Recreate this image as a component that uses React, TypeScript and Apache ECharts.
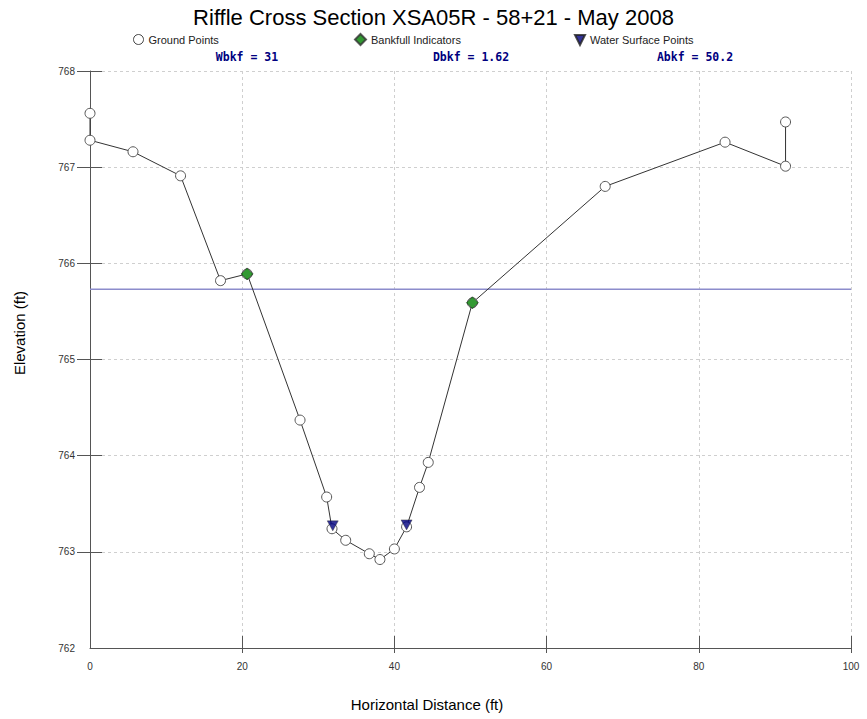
import React, { useEffect, useRef } from "react";
import * as echarts from "echarts";

// Surveyed cross-section profile: [station (ft), elevation (ft)]
const groundPoints: [number, number][] = [
  [0, 767.56],
  [0, 767.28],
  [5.65, 767.16],
  [11.9, 766.91],
  [17.15, 765.82],
  [20.65, 765.89],
  [27.6, 764.37],
  [31.1, 763.57],
  [31.8, 763.24],
  [33.6, 763.12],
  [36.7, 762.98],
  [38.1, 762.92],
  [40.0, 763.03],
  [41.6, 763.26],
  [43.3, 763.67],
  [44.45, 763.93],
  [50.25, 765.59],
  [67.7, 766.8],
  [83.45, 767.26],
  [91.4, 767.01],
  [91.4, 767.47],
];

const bankfullPoints: [number, number][] = [
  [20.65, 765.89],
  [50.25, 765.59],
];

const waterSurfacePoints: [number, number][] = [
  [31.9, 763.27],
  [41.6, 763.28],
];

// Bankfull stage drawn across the whole section
const bankfullStage = 765.73;
const bankfullLine: [number, number][] = [
  [0, bankfullStage],
  [100, bankfullStage],
];

const xTicks = [20, 40, 60, 80, 100];
const yTicks = [763, 764, 765, 766, 767, 768];

const statNames = ["Wbkf", "Dbkf", "Abkf"];
const statValues = ["31", "1.62", "50.2"];

const TITLE = "Riffle Cross Section XSA05R - 58+21 - May 2008";
const DOWN_TRIANGLE = "path://M0,0 L10,0 L5,10 Z";

export default function App() {
  const ref = useRef<HTMLDivElement>(null);

  useEffect(() => {
    if (!ref.current) return;
    const chart = echarts.init(ref.current, undefined, { renderer: "svg" });

    const font = "Liberation Sans";
    const axisColor = "#555";
    const statX = [247, 471, 695];
    const legendText = { fontSize: 11, color: "#222", fontFamily: font };

    chart.setOption({
      animation: false,
      backgroundColor: "#fff",
      textStyle: { fontFamily: font },
      title: {
        text: TITLE,
        left: "center",
        top: 1,
        textStyle: { fontSize: 22, fontWeight: "normal", color: "#000", fontFamily: font },
      },
      legend: [
        {
          data: [{ name: "Ground Points", icon: "circle", itemStyle: { color: "#fff", borderColor: "#444", borderWidth: 1 } }],
          left: 128,
          top: 29,
          itemWidth: 10,
          itemHeight: 10,
          textStyle: legendText,
        },
        {
          data: [{ name: "Bankfull Indicators", icon: "diamond" }],
          left: 349,
          top: 28,
          itemWidth: 11,
          itemHeight: 11,
          textStyle: legendText,
        },
        {
          data: [{ name: "Water Surface Points", icon: DOWN_TRIANGLE }],
          left: 569,
          top: 29,
          itemWidth: 10,
          itemHeight: 10,
          textStyle: legendText,
        },
      ],
      grid: { left: 90, right: 16, top: 71, bottom: 71 },
      xAxis: [
        {
          type: "value",
          min: 0,
          max: 100,
          interval: 20,
          axisLine: { show: true, lineStyle: { color: axisColor, width: 1 } },
          axisTick: { show: true, inside: true, length: 12, customValues: xTicks, lineStyle: { color: axisColor } },
          axisLabel: { color: "#333", fontSize: 10, margin: 13 },
          splitLine: { show: true, lineStyle: { type: [3, 3], color: "#cfcfcf" } },
        },
        {
          type: "value",
          min: 0,
          max: 100,
          interval: 20,
          position: "bottom",
          axisLine: { show: false },
          axisTick: { show: true, inside: false, length: 5, customValues: xTicks, lineStyle: { color: axisColor } },
          axisLabel: { show: false },
          splitLine: { show: false },
        },
      ],
      yAxis: [
        {
          type: "value",
          min: 762,
          max: 768,
          interval: 1,
          axisLine: { show: true, lineStyle: { color: axisColor, width: 1 } },
          axisTick: { show: true, inside: false, length: 13, customValues: yTicks, lineStyle: { color: axisColor } },
          axisLabel: { color: "#333", fontSize: 10, margin: 15 },
          splitLine: { show: true, lineStyle: { type: [3, 3], color: "#cfcfcf" } },
        },
        {
          type: "value",
          min: 762,
          max: 768,
          interval: 1,
          position: "left",
          axisLine: { show: false },
          axisTick: { show: true, inside: true, length: 12, customValues: yTicks, lineStyle: { color: axisColor } },
          axisLabel: { show: false },
          splitLine: { show: false },
        },
      ],
      series: [
        {
          name: "Bankfull Stage",
          type: "line",
          data: bankfullLine,
          showSymbol: false,
          symbol: "none",
          silent: true,
          lineStyle: { color: "#8c8ccc", width: 1.5 },
          z: 1,
        },
        {
          name: "Ground Points",
          type: "line",
          data: groundPoints,
          symbol: "circle",
          symbolSize: 10,
          itemStyle: { color: "#fff", borderColor: "#555", borderWidth: 1 },
          lineStyle: { color: "#333", width: 1 },
          z: 2,
        },
        {
          name: "Bankfull Indicators",
          type: "scatter",
          data: bankfullPoints,
          symbol: "diamond",
          symbolSize: 12,
          itemStyle: { color: "#008000", borderColor: "#333", borderWidth: 0.8 },
          z: 3,
        },
        {
          name: "Water Surface Points",
          type: "scatter",
          data: waterSurfacePoints,
          symbol: DOWN_TRIANGLE,
          symbolSize: [11, 10],
          itemStyle: { color: "#000080", borderColor: "#222", borderWidth: 0.5 },
          z: 3,
        },
      ],
      graphic: [
        ...statNames.map((n, i) => ({
          type: "text",
          x: statX[i],
          y: 57,
          style: {
            text: `${n} = ${statValues[i]}`,
            textAlign: "center",
            textVerticalAlign: "middle",
            font: 'bold 11.5px "DejaVu Sans Mono"',
            fill: "#000080",
          },
        })),
        {
          type: "text",
          x: 19,
          y: 333,
          rotation: Math.PI / 2,
          style: {
            text: "Elevation (ft)",
            textAlign: "center",
            textVerticalAlign: "middle",
            font: `15px "${font}"`,
            fill: "#000",
          },
        },
        {
          type: "text",
          x: 427,
          y: 704,
          style: {
            text: "Horizontal Distance (ft)",
            textAlign: "center",
            textVerticalAlign: "middle",
            font: `15px "${font}"`,
            fill: "#000",
          },
        },
      ],
    });

    return () => chart.dispose();
  }, []);

  return (
    <div
      ref={ref}
      style={{ position: "absolute", left: 0, top: 0, width: 867, height: 719 }}
    />
  );
}
